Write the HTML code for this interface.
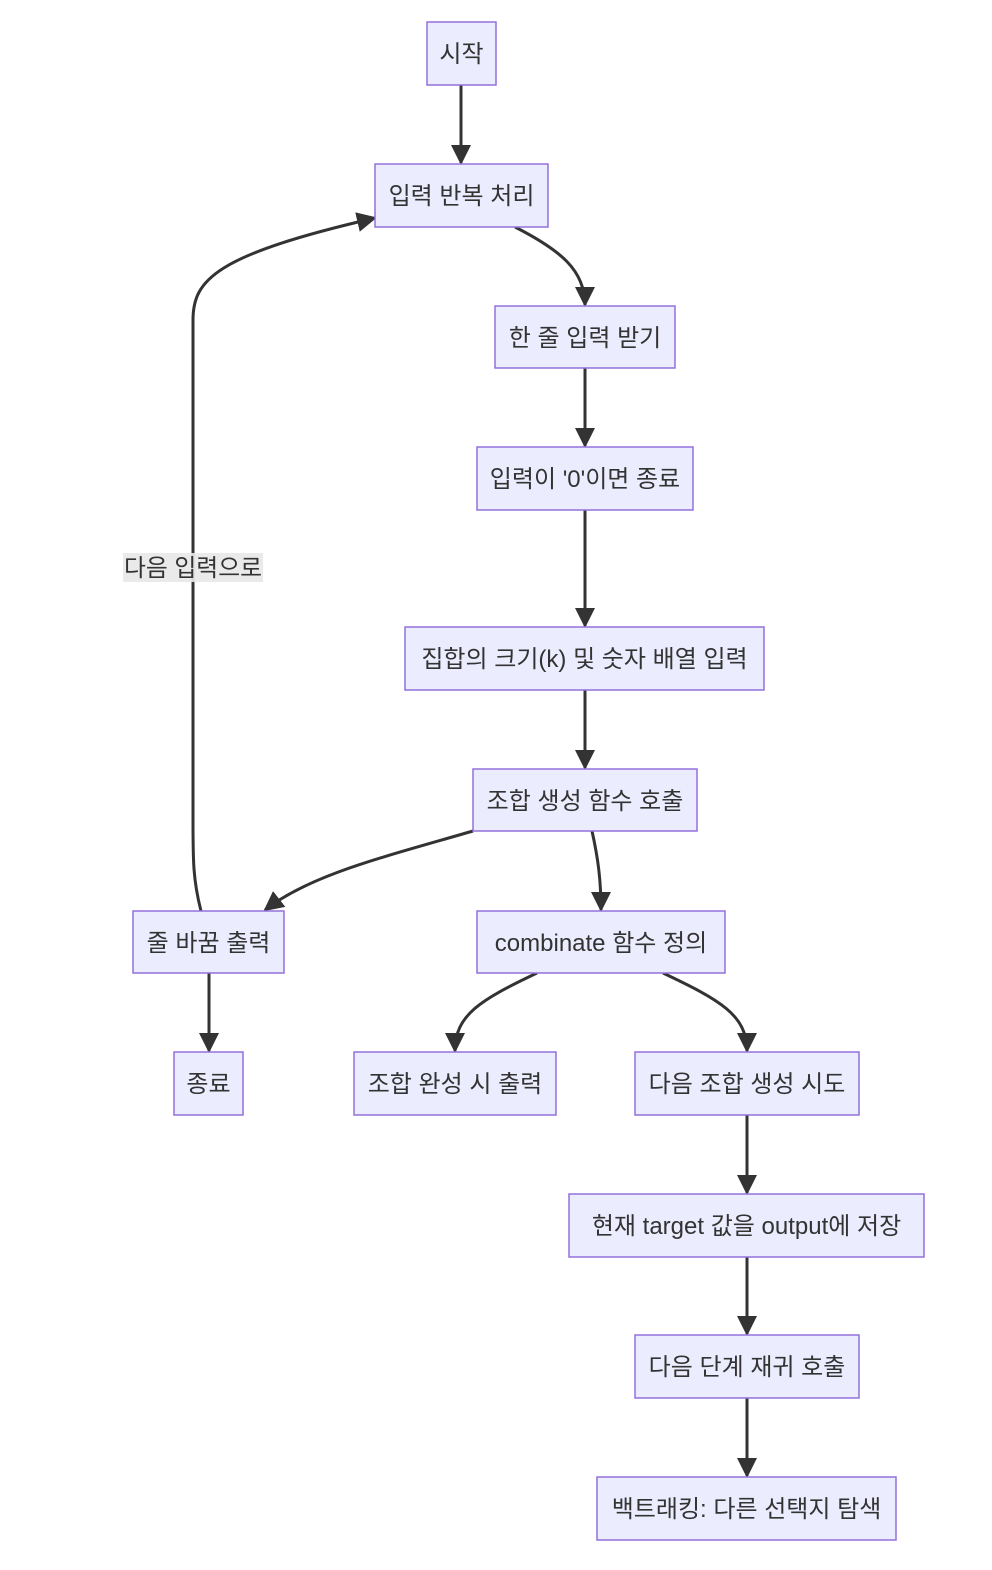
<!DOCTYPE html>
<html><head><meta charset="utf-8"><style>
html,body{margin:0;padding:0;background:#fff;}
svg{display:block;}
text{font-family:"Liberation Sans","Noto Sans CJK KR",sans-serif;font-size:24px;fill:#333;}
.n{fill:#ECECFF;stroke:#9370DB;stroke-width:1.5;}
.e{fill:none;stroke:#333;stroke-width:3;marker-end:url(#a);}
</style></head><body>
<svg width="992" height="1570" viewBox="0 0 992 1570">
<defs><marker id="a" viewBox="0 0 10 10" refX="9" refY="5" markerUnits="userSpaceOnUse" markerWidth="20" markerHeight="20" orient="auto"><path d="M0,0L10,5L0,10z" fill="#333"/></marker></defs>
<g class="edges">
<path class="e" d="M461,85 L461,163"/>
<path class="e" d="M515,227 C560,250 585,270 585,305"/>
<path class="e" d="M585,368 L585,446"/>
<path class="e" d="M585,510 L585,626"/>
<path class="e" d="M585,690 L585,768"/>
<path class="e" d="M473,831 C380,858 310,875 265,910"/>
<path class="e" d="M592,831 C598,858 601,880 601,910"/>
<path class="e" d="M209,973 L209,1051"/>
<path class="e" d="M537,973 C480,1000 455,1015 455,1051"/>
<path class="e" d="M663,973 C720,1000 747,1015 747,1051"/>
<path class="e" d="M747,1115 L747,1193"/>
<path class="e" d="M747,1257 L747,1334"/>
<path class="e" d="M747,1398 L747,1476"/>
<path class="e" d="M201,911 C193,880 193,860 193,820 L193,320 C193,280 215,255 375,218"/>
</g>
<rect x="123" y="553" width="140" height="29" fill="rgba(232,232,232,0.9)"/>
<text x="193" y="576" text-anchor="middle" textLength="138" lengthAdjust="spacingAndGlyphs">다음 입력으로</text>
<g>
<rect class="n" x="427" y="22" width="69" height="63"/><text x="461.5" y="62" text-anchor="middle">시작</text>
<rect class="n" x="375" y="164" width="173" height="63"/><text x="461.5" y="204" text-anchor="middle">입력 반복 처리</text>
<rect class="n" x="495" y="306" width="180" height="62"/><text x="585" y="346" text-anchor="middle">한 줄 입력 받기</text>
<rect class="n" x="477" y="447" width="216" height="63"/><text x="585" y="487" text-anchor="middle">입력이 '0'이면 종료</text>
<rect class="n" x="405" y="627" width="359" height="63"/><text x="584.5" y="667" text-anchor="middle">집합의 크기(k) 및 숫자 배열 입력</text>
<rect class="n" x="473" y="769" width="224" height="62"/><text x="585" y="809" text-anchor="middle">조합 생성 함수 호출</text>
<rect class="n" x="133" y="911" width="151" height="62"/><text x="208.5" y="951" text-anchor="middle">줄 바꿈 출력</text>
<rect class="n" x="477" y="911" width="248" height="62"/><text x="601" y="951" text-anchor="middle">combinate 함수 정의</text>
<rect class="n" x="174" y="1052" width="69" height="63"/><text x="208.5" y="1092" text-anchor="middle">종료</text>
<rect class="n" x="354" y="1052" width="202" height="63"/><text x="455" y="1092" text-anchor="middle">조합 완성 시 출력</text>
<rect class="n" x="635" y="1052" width="224" height="63"/><text x="747" y="1092" text-anchor="middle">다음 조합 생성 시도</text>
<rect class="n" x="569" y="1194" width="355" height="63"/><text x="746.5" y="1234" text-anchor="middle">현재 target 값을 output에 저장</text>
<rect class="n" x="635" y="1335" width="224" height="63"/><text x="747" y="1375" text-anchor="middle">다음 단계 재귀 호출</text>
<rect class="n" x="597" y="1477" width="299" height="63"/><text x="746.5" y="1517" text-anchor="middle">백트래킹: 다른 선택지 탐색</text>
</g>
</svg>
</body></html>
